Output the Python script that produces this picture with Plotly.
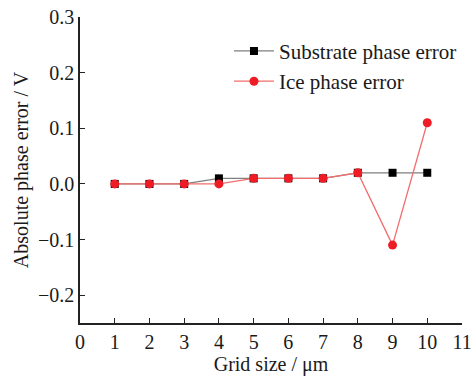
import plotly.graph_objects as go

grid_size = [1, 2, 3, 4, 5, 6, 7, 8, 9, 10]
substrate_err = [0, 0, 0, 0.01, 0.01, 0.01, 0.01, 0.02, 0.02, 0.02]
ice_err = [0, 0, 0, 0, 0.01, 0.01, 0.01, 0.02, -0.11, 0.11]
x_ticks = list(range(0, 12))
y_ticks = [-0.2, -0.1, 0.0, 0.1, 0.2, 0.3]
y_labels = ["\u22120.2", "\u22120.1", "0.0", "0.1", "0.2", "0.3"]

serif = "Liberation Serif, Times New Roman, serif"
font = dict(family=serif, size=20, color="#1a1a1a")

fig = go.Figure()
fig.add_trace(go.Scatter(
    x=grid_size, y=substrate_err, name="Substrate phase error",
    mode="lines+markers",
    line=dict(color="#7f7f7f", width=1.3),
    marker=dict(symbol="square", size=8, color="#000000"),
))
fig.add_trace(go.Scatter(
    x=grid_size, y=ice_err, name="Ice phase error",
    mode="lines+markers",
    line=dict(color="#f26d6d", width=1.3),
    marker=dict(symbol="circle", size=9, color="#ee1c25"),
))

fig.update_layout(
    width=474, height=377,
    margin=dict(l=80, r=12, t=17, b=54),
    paper_bgcolor="white", plot_bgcolor="white",
    font=font,
    showlegend=True,
    legend=dict(x=0.39, y=0.955, xanchor="left", yanchor="top",
                bgcolor="rgba(0,0,0,0)", font=dict(family=serif, size=21),
                tracegroupgap=0, itemwidth=40),
)
fig.update_xaxes(
    range=[0, 11], tickvals=x_ticks, ticks="inside", ticklen=5,
    showline=True, linecolor="#222", linewidth=1.5, tickcolor="#222",
    showgrid=False, zeroline=False, automargin=False,
    ticklabeloverflow="allow",
    tickfont=dict(family=serif, size=20),
    title=dict(text="Grid size / \u03bcm", standoff=2, font=dict(size=20)),
)
fig.update_yaxes(
    range=[-0.25, 0.3], tickvals=y_ticks, ticktext=y_labels,
    ticks="inside", ticklen=5,
    showline=True, linecolor="#222", linewidth=1.5, tickcolor="#222",
    showgrid=False, zeroline=False, automargin=False,
    ticklabeloverflow="allow",
    tickfont=dict(family=serif, size=20),
    title=dict(text="Absolute phase error / V", standoff=4, font=dict(size=20)),
)

fig.write_html(
    "out.html",
    config={"displayModeBar": False},
    post_script="document.body.style.margin='0';document.body.style.overflow='hidden';",
)
